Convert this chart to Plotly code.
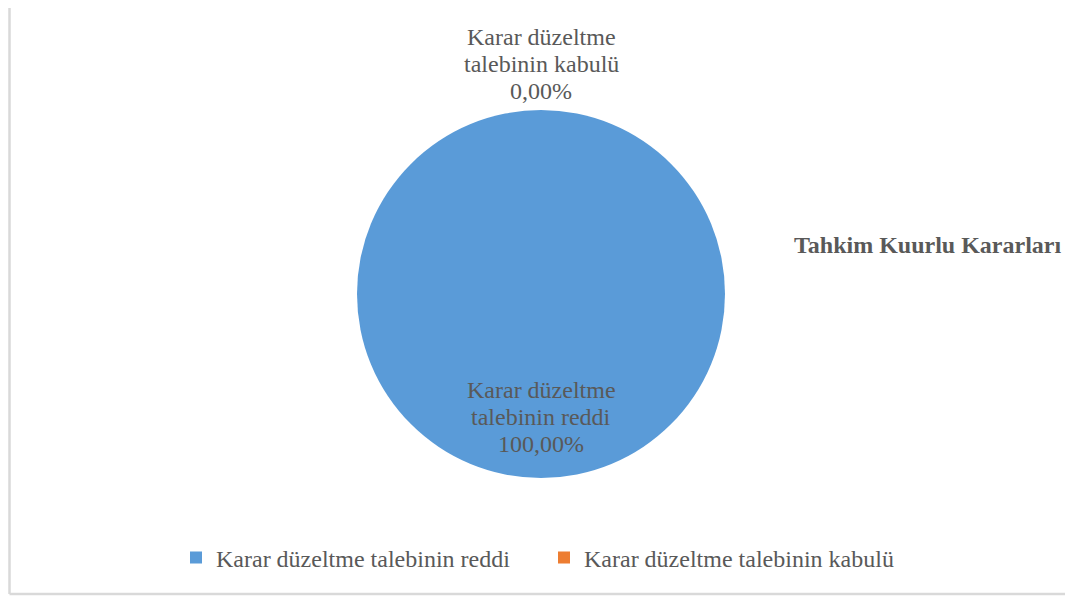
import plotly.graph_objects as go

categories = ["Karar düzeltme talebinin reddi", "Karar düzeltme talebinin kabulü"]
values = [100.0, 0.0]
colors = ["#5a9bd8", "#ed7d31"]
title_text = "Tahkim Kuurlu Kararları"

# The page body has an 8px default margin; figure coords are screen coords minus 8.
OFF = 8
W, H = 1073 - OFF, 599 - OFF
FONT = "Liberation Serif, Times New Roman, serif"
GRAY = "#595959"


def px(x):
    return (x - OFF) / W


def py(y):
    return 1 - (y - OFF) / H


def pct(v):
    return f"{v / sum(values) * 100:.2f}".replace(".", ",") + "%"


def label_lines(label, v):
    words = label.split(" ")
    return [" ".join(words[:2]), " ".join(words[2:]), pct(v)]


fig = go.Figure()
fig.add_trace(go.Pie(
    labels=categories,
    values=values,
    marker=dict(colors=colors, line=dict(width=0)),
    textinfo="none",
    hoverinfo="label+percent",
    sort=False,
    direction="clockwise",
    rotation=0,
    domain=dict(x=[px(357), px(725)], y=[py(478), py(110)]),
    showlegend=True,
))

anns = []
label_tops = {1: 37, 0: 390}
for idx, top in label_tops.items():
    for i, line in enumerate(label_lines(categories[idx], values[idx])):
        anns.append(dict(text=line, x=px(541), y=py(top + i * 27), xref="paper", yref="paper",
                         xanchor="center", yanchor="middle", showarrow=False,
                         font=dict(family=FONT, size=24, color=GRAY)))
anns.append(dict(text="<b>" + title_text + "</b>", x=px(927), y=py(245),
                 xref="paper", yref="paper", xanchor="center", yanchor="middle",
                 showarrow=False, font=dict(family=FONT, size=24, color=GRAY)))

fig.update_layout(
    width=W, height=H,
    margin=dict(l=0, r=0, t=0, b=0),
    paper_bgcolor="white",
    plot_bgcolor="white",
    annotations=anns,
    legend=dict(orientation="h", x=px(544), xanchor="center", y=py(558), yanchor="middle",
                font=dict(family=FONT, size=24, color=GRAY),
                entrywidth=323, itemclick=False),
    shapes=[
        dict(type="line", xref="paper", yref="paper", x0=px(9.5), x1=px(9.5), y0=py(594), y1=1.05,
             line=dict(color="#d9d9d9", width=2.5)),
        dict(type="line", xref="paper", yref="paper", x0=px(9.5), x1=1.05, y0=py(594), y1=py(594),
             line=dict(color="#d9d9d9", width=2.5)),
    ],
)

fig.write_html("out.html")
